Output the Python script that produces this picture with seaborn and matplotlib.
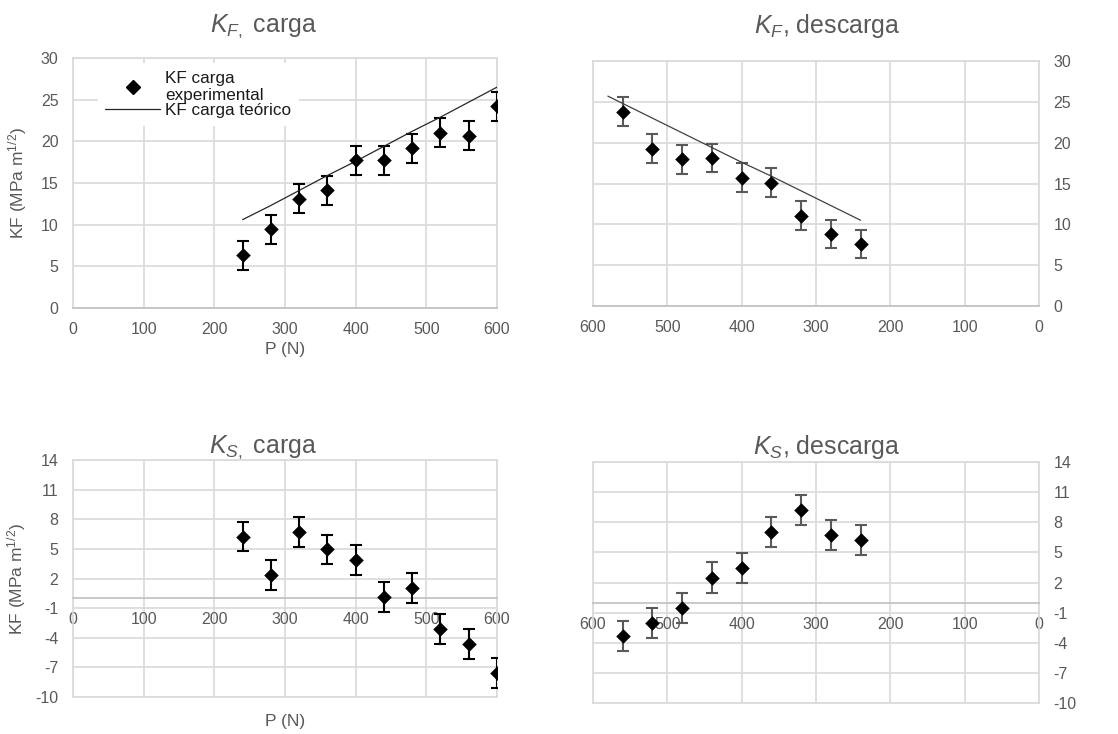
import matplotlib
matplotlib.use("Agg")
import matplotlib.pyplot as plt
from matplotlib.lines import Line2D
import seaborn as sns

sns.set_theme(style="white")
plt.rcParams["font.family"] = ["Liberation Sans", "DejaVu Sans"]
plt.rcParams["mathtext.fontset"] = "custom"
plt.rcParams["mathtext.rm"] = "Liberation Sans"
plt.rcParams["mathtext.it"] = "Liberation Sans:italic"
plt.rcParams["mathtext.bf"] = "Liberation Sans:bold"
plt.rcParams["axes.unicode_minus"] = False

# ---- data -------------------------------------------------------------
p_carga = [240, 280, 320, 360, 400, 440, 480, 520, 560, 600]
kf_carga = [6.3, 9.45, 13.1, 14.1, 17.7, 17.7, 19.15, 21.05, 20.65, 24.2]
kf_teo_carga = [10.6, 12.3, 14.1, 15.9, 17.6, 19.4, 21.2, 22.9, 24.7, 26.5]

p_descarga = [560, 520, 480, 440, 400, 360, 320, 280, 240]
kf_descarga = [23.8, 19.25, 17.95, 18.1, 15.7, 15.1, 11.05, 8.8, 7.6]
p_teo_descarga = [580, 560, 520, 480, 440, 400, 360, 320, 280, 240]
kf_teo_descarga = [25.7, 24.8, 23.0, 21.2, 19.4, 17.6, 15.9, 14.1, 12.3, 10.5]

ks_carga = [6.25, 2.35, 6.7, 4.95, 3.85, 0.1, 1.05, -3.1, -4.65, -7.55]
ks_descarga = [-3.35, -2.05, -0.5, 2.5, 3.45, 7.0, 9.2, 6.7, 6.25]

kf_err = 1.75
ks_err = 1.5

x_ticks = [0, 100, 200, 300, 400, 500, 600]
kf_ticks = [0, 5, 10, 15, 20, 25, 30]
ks_ticks = [-10, -7, -4, -1, 2, 5, 8, 11, 14]

titles = [r"$K_{F,}$ carga", r"$K_F$, descarga", r"$K_{S,}$ carga", r"$K_S$, descarga"]
y_label = r"KF (MPa m$^{1/2}$)"
x_label = "P (N)"
legend_labels = ["KF carga\nexperimental", "KF carga teórico"]

# ---- styling constants ------------------------------------------------
GRID = "#d9d9d9"
AXIS = "#bfbfbf"
TEXT = "#595959"
TICK_FS = 11.5
LABEL_FS = 12.5

fig = plt.figure(figsize=(11.18, 7.34), dpi=100)
ax_tl = fig.add_axes([0.0653, 0.5804, 0.3792, 0.3406])
ax_tr = fig.add_axes([0.5304, 0.5831, 0.3989, 0.3338])
ax_bl = fig.add_axes([0.0653, 0.0504, 0.3792, 0.3229])
ax_br = fig.add_axes([0.5304, 0.0422, 0.3989, 0.3283])


def style(ax, ylim, yticks, right=False, zero_axis=False):
    if right:
        ax.set_xlim(600, 0)
    else:
        ax.set_xlim(0, 600)
    ax.set_ylim(*ylim)
    ax.set_xticks(x_ticks)
    ax.set_yticks(yticks)
    ax.grid(True, color=GRID, linewidth=1.2)
    ax.set_axisbelow(True)
    for s in ax.spines.values():
        s.set_color(GRID)
        s.set_linewidth(1.2)
    ax.spines["bottom"].set_color(AXIS)
    if zero_axis:
        ax.spines["bottom"].set_position(("data", 0))
        ax.axhline(ylim[0], color=GRID, linewidth=1.2, clip_on=False, zorder=0.5)
    ax.tick_params(axis="both", length=0, labelsize=TICK_FS, labelcolor=TEXT)
    ax.tick_params(axis="x", pad=10)
    ax.tick_params(axis="y", pad=10.5)
    if right:
        ax.yaxis.tick_right()
    ax.set_xlabel("")
    ax.set_ylabel("")


def draw_points(ax, x, y, err, ecolor):
    ax.errorbar(x, y, yerr=err, fmt="none", ecolor=ecolor, elinewidth=1.5,
                capsize=4, capthick=1.5, zorder=3)
    sns.scatterplot(x=x, y=y, ax=ax, marker="D", s=55, color="black",
                    edgecolor="black", linewidth=0, zorder=4, legend=False)


def add_title(ax, text, xf, yf):
    ax.text(xf, yf, text, transform=ax.transAxes, ha="center", va="center",
            fontsize=18, color=TEXT)


# K_F carga
sns.lineplot(x=p_carga, y=kf_teo_carga, ax=ax_tl, color="#262626",
             linewidth=0.9, estimator=None, zorder=3.5)
draw_points(ax_tl, p_carga, kf_carga, kf_err, "black")
style(ax_tl, (0, 30), kf_ticks)
add_title(ax_tl, titles[0], 0.45, 1.128)
ax_tl.set_ylabel(y_label, fontsize=LABEL_FS, color=TEXT)
ax_tl.yaxis.set_label_coords(-0.104, 0.5)
ax_tl.set_xlabel(x_label, fontsize=LABEL_FS, color=TEXT)
ax_tl.xaxis.set_label_coords(0.5, -0.136)
handles = [Line2D([], [], marker="D", ls="none", color="black", ms=7.3),
           Line2D([], [], color="#262626", lw=0.9)]
leg = ax_tl.legend(handles, legend_labels, loc="upper left",
                   bbox_to_anchor=(0.058, 0.98), frameon=True, fancybox=False,
                   edgecolor="none", facecolor="white", framealpha=1,
                   fontsize=12.3, handlelength=3.2, labelspacing=0.0,
                   borderpad=0.45, handletextpad=0.3, borderaxespad=0)
for t in leg.get_texts():
    t.set_color("#1a1a1a")

# K_F descarga
sns.lineplot(x=p_teo_descarga, y=kf_teo_descarga, ax=ax_tr, color="#404040",
             linewidth=0.9, estimator=None, zorder=3.5)
draw_points(ax_tr, p_descarga, kf_descarga, kf_err, "#595959")
style(ax_tr, (0, 30), kf_ticks, right=True)
add_title(ax_tr, titles[1], 0.525, 1.143)

# K_S carga
draw_points(ax_bl, p_carga, ks_carga, ks_err, "black")
style(ax_bl, (-10, 14), ks_ticks, zero_axis=True)
add_title(ax_bl, titles[2], 0.448, 1.055)
ax_bl.set_ylabel(y_label, fontsize=LABEL_FS, color=TEXT)
ax_bl.yaxis.set_label_coords(-0.106, 0.5)
ax_bl.set_xlabel(x_label, fontsize=LABEL_FS, color=TEXT)
ax_bl.xaxis.set_label_coords(0.5, -0.072)

# K_S descarga
draw_points(ax_br, p_descarga, ks_descarga, ks_err, "#595959")
style(ax_br, (-10, 14), ks_ticks, right=True, zero_axis=True)
add_title(ax_br, titles[3], 0.525, 1.062)

fig.savefig("out.png", dpi=100, facecolor="white")
